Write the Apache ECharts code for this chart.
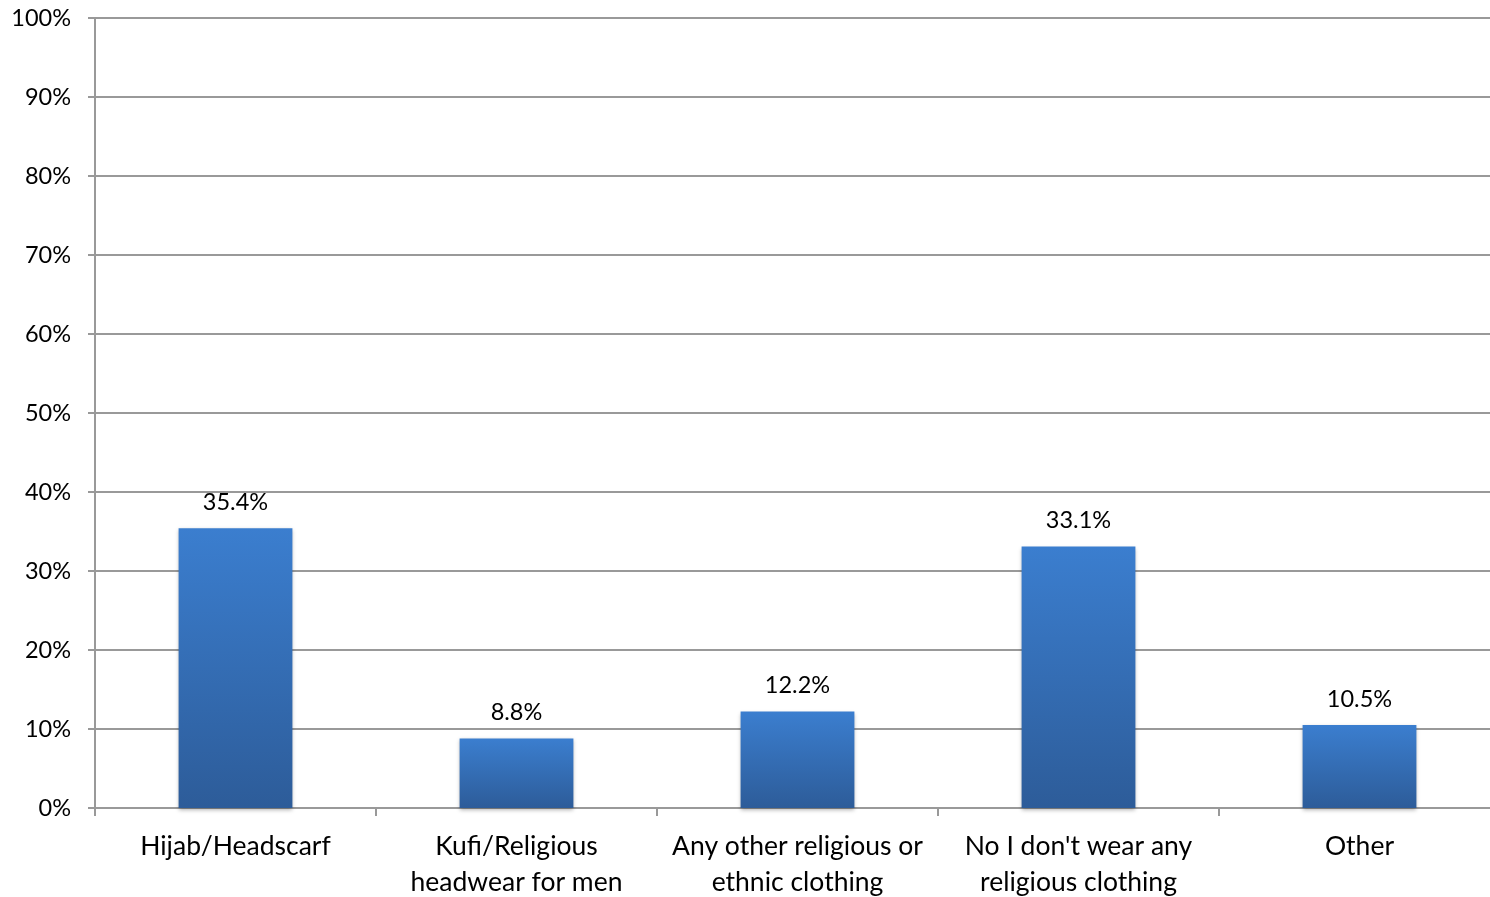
<!DOCTYPE html>
<html><head><meta charset="utf-8">
<script src="https://cdn.jsdelivr.net/npm/echarts@6/dist/echarts.min.js"></script>
<style>html,body{margin:0;padding:0;background:#fff}#c{width:1490px;height:897px}</style>
</head><body><div id="c"></div>
<script>
const categories = ["Hijab/Headscarf", "Kufi/Religious\nheadwear for men", "Any other religious or\nethnic clothing", "No I don't wear any\nreligious clothing", "Other"];
const values = [35.4, 8.8, 12.2, 33.1, 10.5];
const yTicks = [0, 10, 20, 30, 40, 50, 60, 70, 80, 90, 100];
const FONT = "Lato";
const chart = echarts.init(document.getElementById('c'));
chart.setOption({
  animation: false,
  grid: {left: 95, width: 1405, top: 18, height: 790, containLabel: false, outerBoundsMode: 'none'},
  xAxis: {
    type: 'category', data: categories,
    axisLine: {lineStyle: {color: '#999', width: 2}},
    axisTick: {show: true, length: 8, lineStyle: {color: '#999', width: 2}, alignWithLabel: false},
    axisLabel: {color: '#000', fontFamily: FONT, fontSize: 26.5, lineHeight: 36, margin: 20, interval: 0}
  },
  yAxis: {
    type: 'value', min: 0, max: 100, interval: 10,
    axisLine: {show: true, lineStyle: {color: '#999', width: 2}},
    axisTick: {show: true, length: 7, lineStyle: {color: '#999', width: 2}},
    splitLine: {lineStyle: {color: '#999', width: 2}},
    axisLabel: {color: '#000', fontFamily: FONT, fontSize: 23.5, margin: 24, formatter: v => yTicks.includes(v) ? v + '%' : ''}
  },
  series: [{
    type: 'bar', data: values, barWidth: '40.5%',
    itemStyle: {
      color: {type: 'linear', x: 0, y: 0, x2: 0, y2: 1, colorStops: [
        {offset: 0, color: '#3b7ecf'}, {offset: 1, color: '#2d5c99'}]},
      shadowColor: 'rgba(0,0,0,0.3)', shadowBlur: 4, shadowOffsetY: 2
    },
    label: {show: true, position: 'top', distance: 14, color: '#000', fontFamily: FONT, fontSize: 23.5,
      formatter: p => p.value.toFixed(1) + '%'}
  }]
});
</script></body></html>
